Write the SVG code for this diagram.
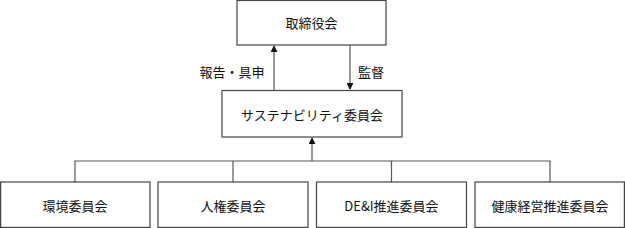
<svg xmlns="http://www.w3.org/2000/svg" width="625" height="228" viewBox="0 0 625 228">
<defs>
<style>
.box{fill:#fff;stroke:#444;stroke-width:1.2}
.t{font-family:"Noto Sans CJK JP","Noto Sans CJK SC",sans-serif;font-size:13px;fill:#111;text-anchor:middle;dominant-baseline:central}
.ln{fill:none;stroke:#555;stroke-width:1.2}
</style>
<marker id="ah" viewBox="0 0 8 8" refX="7" refY="4" markerWidth="7" markerHeight="7" markerUnits="userSpaceOnUse" orient="auto">
<path d="M0,0 L8,4 L0,8 Z" fill="#111"/>
</marker>
</defs>
<rect width="625" height="228" fill="#fff"/>
<g id="connectors">
<line class="ln" x1="274" y1="90" x2="274" y2="46" marker-end="url(#ah)"/>
<line class="ln" x1="350" y1="45" x2="350" y2="89" marker-end="url(#ah)"/>
<polyline class="ln" points="75,182 75,161 550,161 550,182"/>
<line class="ln" x1="233" y1="161" x2="233" y2="182"/>
<line class="ln" x1="391.5" y1="161" x2="391.5" y2="182"/>
<line class="ln" x1="312" y1="161" x2="312" y2="138" marker-end="url(#ah)"/>
<text class="t" x="232" y="71">報告・具申</text>
<text class="t" x="371" y="71">監督</text>
</g>
<g id="board">
<rect class="box" x="237" y="0.5" width="149" height="44.5"/>
<text class="t" x="311.5" y="22">取締役会</text>
</g>
<g id="sustainability">
<rect class="box" x="222" y="90.5" width="180" height="46.5"/>
<text class="t" x="312" y="114">サステナビリティ委員会</text>
</g>
<g id="env">
<rect class="box" x="0.6" y="182" width="149.4" height="45.4"/>
<text class="t" x="75" y="205">環境委員会</text>
</g>
<g id="human-rights">
<rect class="box" x="158" y="182" width="150" height="45.4"/>
<text class="t" x="233" y="205">人権委員会</text>
</g>
<g id="dei">
<rect class="box" x="316.5" y="182" width="150" height="45.4"/>
<text class="t" x="391.5" y="205">DE&amp;I推進委員会</text>
</g>
<g id="health">
<rect class="box" x="475" y="182" width="149.4" height="45.4"/>
<text class="t" x="550" y="205">健康経営推進委員会</text>
</g>
</svg>
